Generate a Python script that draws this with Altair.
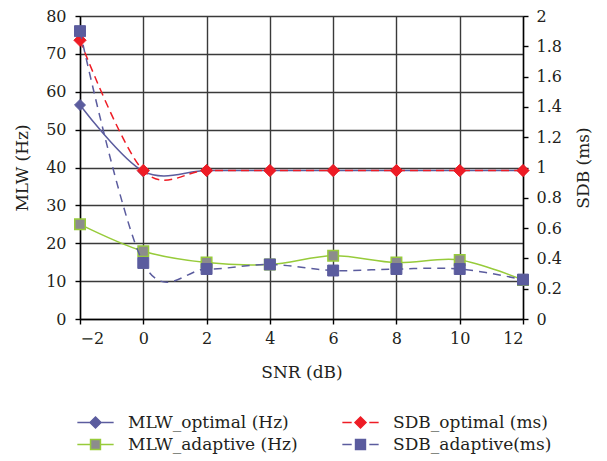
import altair as alt
import pandas as pd

# ---- data ----
snr = [-2, 0, 2, 4, 6, 8, 10, 12]
mlw_optimal = [56.5, 39.0, 39.2, 39.2, 39.2, 39.2, 39.2, 39.2]
mlw_adaptive = [25.0, 17.9, 14.9, 14.4, 16.7, 14.9, 15.6, 10.3]
sdb_optimal = [1.84, 0.98, 0.98, 0.98, 0.98, 0.98, 0.98, 0.98]
sdb_adaptive = [1.90, 0.37, 0.33, 0.36, 0.32, 0.33, 0.33, 0.26]

series_names = ["MLW_optimal (Hz)", "SDB_optimal (ms)", "MLW_adaptive (Hz)", "SDB_adaptive(ms)"]
left_ticks = [0, 10, 20, 30, 40, 50, 60, 70, 80]
right_ticks = [0, 0.2, 0.4, 0.6, 0.8, 1.0, 1.2, 1.4, 1.6, 1.8, 2.0]

rows = []
for name, vals in zip(series_names, [mlw_optimal, sdb_optimal, mlw_adaptive, sdb_adaptive]):
    for s, v in zip(snr, vals):
        rows.append({"snr": s, "series": name, "value": v})
df = pd.DataFrame(rows)

FONT = "'DejaVu Serif', 'Liberation Serif', serif"
TXT = "#231F20"
SLATE = "#5B5C9E"
RED = "#EE1C25"
GREEN = "#97CB3A"
GRAY = "#8C8C8C"
GRID = "#3A3A3A"

base = alt.Chart(df)

x_enc = alt.X(
    "snr:Q",
    scale=alt.Scale(domain=[-2, 12], nice=False, zero=False),
    axis=alt.Axis(values=snr, title="SNR (dB)", grid=True, gridColor=GRID, gridWidth=1.4,
                  tickSize=5, labelPadding=6, titlePadding=18),
)

y_left = alt.Y(
    "value:Q",
    scale=alt.Scale(domain=[0, 80], nice=False, zero=True),
    axis=alt.Axis(values=left_ticks, title="MLW (Hz)", orient="left", grid=True,
                  gridColor=GRID, gridWidth=1.4, tickSize=5, labelPadding=9, titlePadding=14),
)
y_right = alt.Y(
    "value:Q",
    scale=alt.Scale(domain=[0, 2], nice=False, zero=True),
    axis=alt.Axis(values=right_ticks, format="~g", title="SDB (ms)", orient="right", grid=False,
                  tickSize=5, labelPadding=8, titlePadding=14, titleAngle=270, titleBaseline="top"),
)


def line(name, color, y, dash=None):
    kw = dict(color=color, strokeWidth=1.5, interpolate="cardinal")
    if dash is not None:
        kw["strokeDash"] = dash
    return base.transform_filter(alt.datum.series == name).mark_line(**kw).encode(x=x_enc, y=y)


def points(name, shape, fill, stroke, size, y, sw=1.0):
    return base.transform_filter(alt.datum.series == name).mark_point(
        shape=shape, filled=True, fill=fill, stroke=stroke, strokeWidth=sw, size=size, opacity=1
    ).encode(x=x_enc, y=y)


left = alt.layer(
    line("MLW_optimal (Hz)", SLATE, y_left),
    points("MLW_optimal (Hz)", "diamond", SLATE, SLATE, 120, y_left),
    line("MLW_adaptive (Hz)", GREEN, y_left),
    points("MLW_adaptive (Hz)", "square", GRAY, GREEN, 110, y_left, sw=1.5),
)
right = alt.layer(
    line("SDB_optimal (ms)", RED, y_right, dash=[8, 5]),
    points("SDB_optimal (ms)", "diamond", RED, RED, 150, y_right),
    line("SDB_adaptive(ms)", SLATE, y_right, dash=[8, 6]),
    points("SDB_adaptive(ms)", "square", SLATE, SLATE, 120, y_right),
)

# legend symbols: line + marker drawn as custom paths
legend_paths = [
    "M-3.3,0H-1M1,0H3.3M0,-1L1,0L0,1L-1,0Z",
    "M-3.3,0H-1.6M1.6,0H3.3M0,-1L1,0L0,1L-1,0Z",
    "M-3.3,0H-0.9M0.9,0H3.3M-0.9,-0.9H0.9V0.9H-0.9Z",
    "M-3.3,0H-1.6M1.6,0H3.3M-0.9,-0.9H0.9V0.9H-0.9Z",
]
leg = alt.Legend(
    title=None, orient="none", legendX=7, legendY=398, direction="horizontal", columns=2,
    symbolSize=121, symbolStrokeWidth=1.5, labelFont=FONT, labelFontSize=17, labelColor=TXT,
    labelOffset=24, columnPadding=41, rowPadding=4, padding=0, labelLimit=400,
)
legend_layer = base.transform_filter("datum.value < -999").mark_point(
    filled=True, size=121, strokeWidth=1.5, opacity=1
).encode(
    fill=alt.Fill("series:N", scale=alt.Scale(domain=series_names, range=[SLATE, RED, GRAY, SLATE]), legend=leg),
    stroke=alt.Stroke("series:N", scale=alt.Scale(domain=series_names, range=[SLATE, RED, GREEN, SLATE]), legend=leg),
    shape=alt.Shape("series:N", scale=alt.Scale(domain=series_names, range=legend_paths), legend=leg),
)

chart = (
    alt.layer(left, right, legend_layer)
    .resolve_scale(y="independent")
    .properties(width=443, height=303, padding={"left": 5, "top": 0, "right": 5, "bottom": 6},
                background="white")
    .configure_view(stroke=None)
    .configure_axis(
        labelFont=FONT, titleFont=FONT, labelFontSize=16, titleFontSize=17,
        labelColor=TXT, titleColor=TXT, titleFontWeight="normal",
        domainColor="#000000", domainWidth=1.4, tickColor="#000000", tickWidth=1.4,
    )
)

chart.save("out.html", embed_options={"renderer": "svg", "actions": False})
